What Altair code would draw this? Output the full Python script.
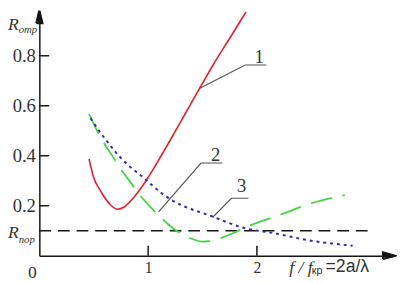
import altair as alt
import pandas as pd

# ---------------- data ----------------
# curve 1 (red, solid)
c1_x = [0.457, 0.495, 0.57, 0.66, 0.72, 0.78, 0.87, 0.99, 1.1, 1.2, 1.35, 1.47, 1.6, 1.75, 1.9]
c1_y = [0.387, 0.319, 0.254, 0.201, 0.186, 0.195, 0.234, 0.306, 0.385, 0.46, 0.575, 0.667, 0.765, 0.87, 0.975]
# curve 2 (green, long dash)
c2_x = [0.457, 0.568, 0.676, 0.74, 0.87, 0.92, 1.11, 1.2, 1.42, 1.5, 1.56, 1.78, 1.92, 2.19, 2.54, 2.81]
c2_y = [0.567, 0.47, 0.396, 0.353, 0.275, 0.245, 0.157, 0.12, 0.065, 0.056, 0.058, 0.09, 0.118, 0.16, 0.215, 0.243]
# curve 3 (blue, dotted)
c3_x = [0.47, 0.6, 0.81, 0.9, 1.2, 1.59, 1.89, 2.16, 2.46, 2.88]
c3_y = [0.55, 0.47, 0.365, 0.333, 0.227, 0.157, 0.11, 0.09, 0.063, 0.04]
# threshold R_пор
r_por = 0.1
r_por_x = [0.0, 3.04]

# axis ticks
x_ticks = [1, 2]
y_ticks = [0.2, 0.4, 0.6, 0.8]

# leader lines for curve numbers
lead_id = ["1", "1", "1", "2", "2", "2", "3", "3", "3"]
lead_x = [1.471, 1.892, 2.087, 1.096, 1.486, 1.682, 1.592, 1.766, 1.922]
lead_y = [0.669, 0.763, 0.763, 0.175, 0.371, 0.371, 0.153, 0.230, 0.230]
num_text = ["1", "2", "3"]
num_x = [2.02, 1.62, 1.86]
num_y = [0.773, 0.380, 0.255]

X_MAX = 3.27
Y_MAX = 0.98

# arrow heads at the axis ends, drawn as closed outlines
arr_id = ["up"] * 4 + ["right"] * 4
arr_x = [-0.028, 0.0, 0.028, -0.028, 3.16, X_MAX, 3.16, 3.16]
arr_y = [0.93, Y_MAX, 0.93, 0.93, -0.013, 0.0, 0.013, -0.013]
# centre strokes filling the arrow heads
fill_x = [0.0, 3.16]
fill_x2 = [0.0, 3.255]
fill_y = [0.93, 0.0]
fill_y2 = [0.97, 0.0]

SERIF = "Liberation Serif, Times New Roman, DejaVu Serif, serif"
SANS = "Liberation Sans, Arial, DejaVu Sans, sans-serif"
INK = "#141414"

# ---------------- shared encodings ----------------
xs = alt.Scale(domain=[0, X_MAX], nice=False, zero=False)
ys = alt.Scale(domain=[0, Y_MAX], nice=False, zero=False)
x_axis = alt.Axis(values=x_ticks, ticks=False, grid=False, title=None,
                  domainColor=INK, domainWidth=1.5,
                  labelFont=SERIF, labelFontSize=16, labelColor="#333333",
                  labelPadding=4)
y_axis = alt.Axis(values=y_ticks, format=".1f", ticks=False, grid=False, title=None,
                  domainColor=INK, domainWidth=1.5,
                  labelFont=SERIF, labelFontSize=19, labelColor="#333333",
                  labelPadding=4)
X = alt.X("x:Q", scale=xs, axis=x_axis)
Y = alt.Y("y:Q", scale=ys, axis=y_axis)


def line_df(xv, yv):
    return pd.DataFrame({"x": xv, "y": yv, "o": list(range(len(xv)))})


red = alt.Chart(line_df(c1_x, c1_y)).mark_line(
    color="#e3202c", strokeWidth=1.6, interpolate="monotone"
).encode(x=X, y=Y, order="o:Q")

green = alt.Chart(line_df(c2_x, c2_y)).mark_line(
    color="#40d640", strokeWidth=1.8, strokeDash=[22, 11], interpolate="monotone"
).encode(x=X, y=Y, order="o:Q")

blue = alt.Chart(line_df(c3_x, c3_y)).mark_line(
    color="#2c2cb0", strokeWidth=2, strokeDash=[3, 4], interpolate="monotone"
).encode(x=X, y=Y, order="o:Q")

thresh = alt.Chart(line_df(r_por_x, [r_por, r_por])).mark_line(
    color=INK, strokeWidth=1.5, strokeDash=[12, 7]
).encode(x=X, y=Y, order="o:Q")

lead = alt.Chart(pd.DataFrame({"g": lead_id, "x": lead_x, "y": lead_y,
                               "o": list(range(len(lead_x)))})).mark_line(
    color="#555555", strokeWidth=1.2
).encode(x=X, y=Y, detail="g:N", order="o:Q")

nums = alt.Chart(pd.DataFrame({"x": num_x, "y": num_y, "t": num_text})).mark_text(
    font=SERIF, fontSize=19, color="#333333", align="center", baseline="alphabetic"
).encode(x=X, y=Y, text="t:N")

# inward tick marks
xt = alt.Chart(pd.DataFrame({"x": x_ticks, "y": [0.0] * len(x_ticks),
                             "y2": [0.04] * len(x_ticks)})).mark_rule(
    color=INK, strokeWidth=1.5
).encode(x=X, y=Y, y2="y2:Q")
yt = alt.Chart(pd.DataFrame({"y": y_ticks, "x": [0.0] * len(y_ticks),
                             "x2": [0.09] * len(y_ticks)})).mark_rule(
    color=INK, strokeWidth=1.5
).encode(x=X, x2="x2:Q", y=Y)

# arrow heads: stroked triangle outlines plus a thick centre stroke
arr_outline = alt.Chart(pd.DataFrame({"g": arr_id, "x": arr_x, "y": arr_y,
                                      "o": list(range(len(arr_x)))})).mark_line(
    color=INK, strokeWidth=2.2, strokeJoin="miter"
).encode(x=X, y=Y, detail="g:N", order="o:Q")
arr_fill = alt.Chart(pd.DataFrame({"x": fill_x, "x2": fill_x2,
                                   "y": fill_y, "y2": fill_y2})).mark_rule(
    color=INK, strokeWidth=3.5
).encode(x=X, x2="x2:Q", y=Y, y2="y2:Q")

# text labels
def txt(df, **kw):
    return alt.Chart(df).mark_text(align="left", baseline="alphabetic", color="#333333", **kw).encode(
        x=X, y=Y, text="t:N")

big_italic = txt(pd.DataFrame({"x": [-0.288, -0.288, 2.297], "y": [0.905, 0.0706, -0.071],
                               "t": ["R", "R", "f / f"]}),
                 font=SERIF, fontSize=18, fontStyle="italic")
small_italic = txt(pd.DataFrame({"x": [-0.19, -0.19], "y": [0.893, 0.051],
                                 "t": ["отр", "пор"]}),
                   font=SERIF, fontSize=11, fontStyle="italic")
sub_sans = txt(pd.DataFrame({"x": [2.505], "y": [-0.075], "t": ["кр"]}),
               font=SANS, fontSize=11)
big_sans = txt(pd.DataFrame({"x": [2.631], "y": [-0.067], "t": ["=2a/λ"]}),
               font=SANS, fontSize=18)
zero = alt.Chart(pd.DataFrame({"x": [-0.063], "y": [-0.090], "t": ["0"]})).mark_text(
    align="center", baseline="alphabetic", color="#333333", font=SERIF, fontSize=18
).encode(x=X, y=Y, text="t:N")

chart = alt.layer(
    thresh, red, green, blue, lead, nums, xt, yt, arr_outline, arr_fill,
    big_italic, small_italic, sub_sans, big_sans, zero
).properties(
    width=363, height=250,
    autosize=alt.AutoSizeParams(type="none"),
    padding={"left": 32, "top": 0, "right": 2, "bottom": 25},
).configure_view(stroke=None)

chart.save("out.html", embed_options={"renderer": "svg", "actions": False})
